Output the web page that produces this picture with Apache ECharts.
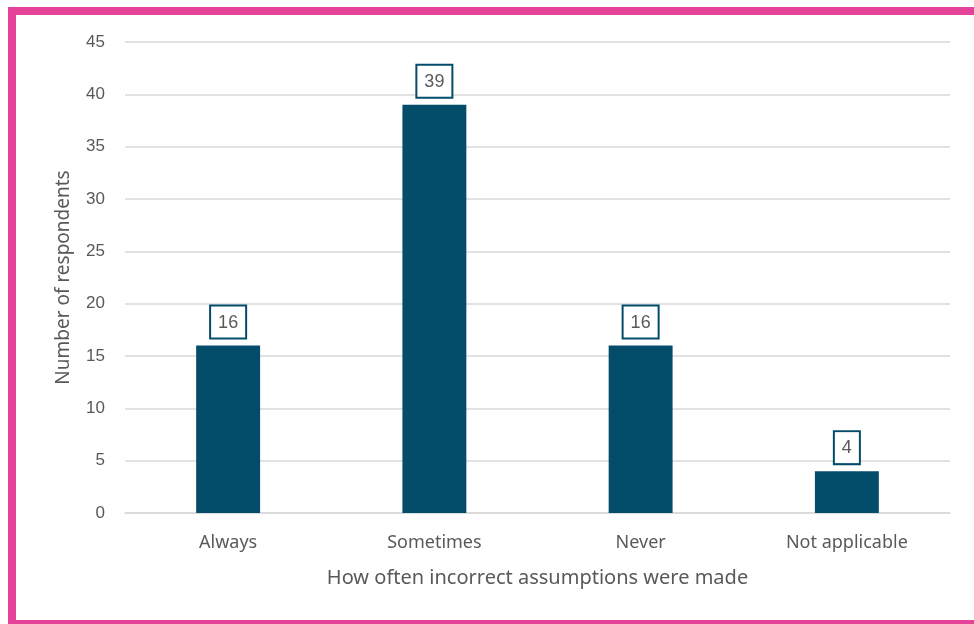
<!DOCTYPE html>
<html>
<head>
<meta charset="utf-8">
<script src="https://cdn.jsdelivr.net/npm/echarts@6/dist/echarts.min.js"></script>
<style>
  html, body { margin: 0; padding: 0; background: #fff; overflow: hidden; }
  #frame {
    position: absolute; left: 8px; top: 7px; width: 1000px; height: 617px;
    border: 8px solid #E5429A; border-bottom-width: 4px; box-sizing: border-box;
  }
  #chart { position: absolute; left: 0; top: 0; width: 974px; height: 624px; }
</style>
</head>
<body>
<div id="frame"></div>
<div id="chart"></div>
<script>
const categories = ['Always', 'Sometimes', 'Never', 'Not applicable'];
const respondents = [16, 39, 16, 4];
const yMax = 45;
const yStep = 5;

const barColor = '#034D6B';
const textColor = '#595959';

const chart = echarts.init(document.getElementById('chart'), null, { renderer: 'canvas' });
chart.setOption({
  animation: false,
  backgroundColor: 'transparent',
  grid: { left: 125, right: 24, top: 42, bottom: 111, containLabel: false },
  xAxis: {
    type: 'category',
    data: categories,
    name: 'How often incorrect assumptions were made',
    nameLocation: 'middle',
    nameGap: 55,
    nameTextStyle: { fontFamily: 'Noto Sans', fontSize: 20, color: textColor },
    axisLine: { show: true, lineStyle: { color: '#D9D9D9', width: 1.5 } },
    axisTick: { show: false },
    axisLabel: { fontFamily: 'Noto Sans', fontSize: 18, color: textColor, margin: 21 }
  },
  yAxis: {
    type: 'value',
    min: 0, max: yMax, interval: yStep,
    name: 'Number of respondents',
    nameLocation: 'middle',
    nameGap: 52,
    nameRotate: 90,
    nameTextStyle: { fontFamily: 'Noto Sans', fontSize: 19, color: textColor },
    axisLine: { show: false },
    axisTick: { show: false },
    axisLabel: { fontFamily: 'Liberation Sans', fontSize: 17, color: textColor, margin: 20 },
    splitLine: { lineStyle: { color: '#D9D9D9', width: 1.5 } }
  },
  series: [{
    type: 'bar',
    data: respondents,
    barWidth: '31%',
    itemStyle: { color: barColor },
    label: {
      show: true,
      position: 'top',
      distance: 8,
      fontFamily: 'Liberation Sans',
      fontSize: 18,
      color: textColor,
      backgroundColor: '#fff',
      borderColor: barColor,
      borderWidth: 2,
      padding: [7, 7, 6, 7]
    }
  }]
});
</script>
</body>
</html>
